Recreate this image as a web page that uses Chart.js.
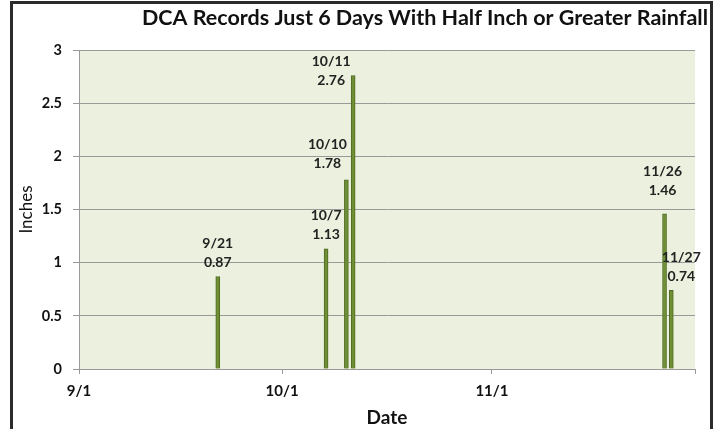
<!DOCTYPE html>
<html>
<head>
<meta charset="utf-8">
<script src="https://cdn.jsdelivr.net/npm/chart.js@4"></script>
<style>
  html, body { margin: 0; padding: 0; background: #fff; }
  #frame {
    position: absolute; left: 10px; top: 1px; width: 697px; height: 428px;
    border: 3px solid #2b2b2b; border-bottom: none;
  }
  #chart { display: block; }
</style>
</head>
<body>
<div id="frame"><canvas id="chart" width="697" height="425"></canvas></div>
<script>
// rainfall days of 0.5" or more at DCA, fall season
const rainDates = ['9/21', '10/7', '10/10', '10/11', '11/26', '11/27'];
const rainInches = [0.87, 1.13, 1.78, 2.76, 1.46, 0.74];

// date axis: one unit per day starting 9/1
const axisLabels = ['9/1', '10/1', '11/1', ''];
const axisTickDays = [0, 30, 61, 91];
const monthStart = { 9: 0, 10: 30, 11: 61 };

function dayIndex(s) {
  const [m, d] = s.split('/').map(Number);
  return monthStart[m] + d - 1;
}

const points = rainDates.map((d, i) => ({ x: dayIndex(d), y: rainInches[i] }));

const plotBg = {
  id: 'plotBg',
  beforeDraw(chart) {
    const { ctx, chartArea: a } = chart;
    ctx.save();
    ctx.fillStyle = '#ebf1de';
    ctx.fillRect(a.left, a.top, a.right - a.left, a.bottom - a.top);
    ctx.restore();
  }
};

// title sits right-aligned, a little past the plot's right edge
const titleText = {
  id: 'titleText',
  afterDraw(chart) {
    const ctx = chart.ctx;
    ctx.save();
    ctx.font = 'bold 21.5px Lato';
    ctx.fillStyle = '#111';
    ctx.textAlign = 'right';
    ctx.textBaseline = 'middle';
    ctx.fillText('DCA Records Just 6 Days With Half Inch or Greater Rainfall', chart.width - 2, 14);
    ctx.restore();
  }
};

// two-line labels over each bar; a few are nudged to clear neighbours
const barLabels = {
  id: 'barLabels',
  afterDatasetsDraw(chart, args, opts) {
    const ctx = chart.ctx;
    const nudge = opts.nudge || {};
    ctx.save();
    ctx.font = 'bold 14px Lato';
    ctx.fillStyle = '#222';
    ctx.textAlign = 'center';
    ctx.textBaseline = 'middle';
    chart.getDatasetMeta(0).data.forEach((bar, i) => {
      const [dx, dy] = nudge[i] || [0, 0];
      ctx.fillText(rainDates[i], bar.x + dx, bar.y - 33 + dy);
      ctx.fillText(rainInches[i].toFixed(2), bar.x + dx, bar.y - 14 + dy);
    });
    ctx.restore();
  }
};

new Chart(document.getElementById('chart'), {
  type: 'bar',
  data: {
    datasets: [{
      data: points,
      backgroundColor: '#6f8f35',
      borderColor: '#4f6a22',
      borderWidth: 1,
      barThickness: 4,
    }],
  },
  options: {
    responsive: false,
    animation: false,
    layout: { padding: { top: 46, right: 15, left: 0, bottom: 0 } },
    plugins: {
      legend: { display: false },
      tooltip: { enabled: false },
      barLabels: { nudge: { 2: [-19, -2], 3: [-22, 19], 4: [-2, -9], 5: [10, 0] } },
    },
    scales: {
      x: {
        type: 'linear',
        offset: false,
        min: -0.5,
        max: 90.5,
        afterBuildTicks(scale) {
          scale.ticks = axisTickDays.map(v => ({ value: v - 0.5 }));
        },
        afterFit(scale) { scale.height = 60; },
        ticks: {
          callback: (v, i) => axisLabels[i],
          font: { family: 'Lato', size: 15, weight: 'bold' },
          color: '#111',
          padding: 8,
          maxRotation: 0,
        },
        grid: { offset: false, drawOnChartArea: false, tickLength: 5, color: '#999' },
        border: { color: '#999' },
        title: {
          display: true,
          text: 'Date',
          font: { family: 'Lato', size: 19, weight: 'bold' },
          color: '#111',
          padding: { top: 0, bottom: 0 },
        },
      },
      y: {
        min: 0,
        max: 3,
        afterFit(scale) { scale.width = 66; },
        ticks: {
          stepSize: 0.5,
          callback: v => String(v),
          font: { family: 'Lato', size: 14.5, weight: 'bold' },
          color: '#111',
          padding: 11,
        },
        grid: { color: '#999', tickLength: 6 },
        border: { color: '#999' },
        title: {
          display: true,
          text: 'Inches',
          font: { family: 'Lato', size: 17 },
          color: '#111',
          padding: { top: 3, bottom: 0 },
        },
      },
    },
  },
  plugins: [plotBg, titleText, barLabels],
});
</script>
</body>
</html>
